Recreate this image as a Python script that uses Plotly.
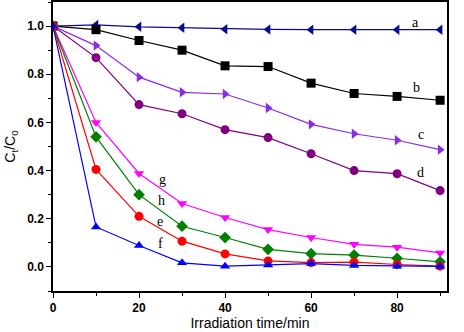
import plotly.graph_objects as go

time_min = [0, 10, 20, 30, 40, 50, 60, 70, 80, 90]

series_a = [1.0, 1.005, 0.997, 0.993, 0.987, 0.986, 0.985, 0.985, 0.985, 0.985]
series_b = [1.0, 0.985, 0.94, 0.90, 0.835, 0.832, 0.763, 0.72, 0.708, 0.692]
series_c = [1.0, 0.919, 0.788, 0.725, 0.718, 0.66, 0.592, 0.553, 0.526, 0.487]
series_d = [1.0, 0.869, 0.674, 0.636, 0.57, 0.537, 0.47, 0.40, 0.387, 0.317]
series_g = [1.0, 0.60, 0.388, 0.263, 0.205, 0.155, 0.122, 0.094, 0.082, 0.058]
series_h = [1.0, 0.54, 0.30, 0.169, 0.122, 0.073, 0.055, 0.049, 0.036, 0.021]
series_e = [1.0, 0.405, 0.21, 0.107, 0.054, 0.025, 0.018, 0.02, 0.01, 0.003]
series_f = [1.0, 0.166, 0.089, 0.017, 0.003, 0.008, 0.014, 0.006, 0.003, 0.002]

labels = ["a", "b", "c", "d", "g", "h", "e", "f"]
label_x = [84.2, 84.6, 85.5, 85.5, 25.4, 25.3, 24.9, 24.9]
label_y = [1.015, 0.744, 0.55, 0.394, 0.363, 0.274, 0.19, 0.097]

styles = [
    (series_a, "#0a0a8c", "triangle-left"),
    (series_b, "#000000", "square"),
    (series_c, "#8a2be2", "triangle-right"),
    (series_d, "#800080", "circle"),
    (series_g, "#ff00ff", "triangle-down"),
    (series_h, "#008000", "diamond"),
    (series_e, "#ff0000", "circle"),
    (series_f, "#0000ff", "triangle-up"),
]

fig = go.Figure()
for vals, col, sym in styles:
    fig.add_trace(go.Scatter(
        x=time_min, y=vals, mode="lines+markers",
        line=dict(color=col, width=1.2),
        marker=dict(symbol=sym, size=9, color=col),
        showlegend=False,
    ))

for t, x, y in zip(labels, label_x, label_y):
    fig.add_annotation(x=x, y=y, text=t, showarrow=False,
                       font=dict(family="Liberation Serif", size=14, color="black"))

axis_common = dict(
    showline=True, linecolor="black", linewidth=1.5, mirror=True,
    ticks="outside", ticklen=5, tickwidth=1.2, tickcolor="black",
    showgrid=False, zeroline=False, automargin=False,
    tickfont=dict(family="Liberation Sans", size=12, color="black", weight="bold"),
)

fig.update_xaxes(
    range=[0, 91.6], tickvals=[0, 20, 40, 60, 80],
    minor=dict(tickvals=[10, 30, 50, 70, 90], ticks="outside", ticklen=3, tickcolor="black", tickwidth=1.2),
    title=dict(text="Irradiation time/min", font=dict(family="Liberation Sans", size=14, color="black"), standoff=4),
    **axis_common,
)
fig.update_yaxes(
    range=[-0.1, 1.1], tickvals=[0.0, 0.2, 0.4, 0.6, 0.8, 1.0], tickformat=".1f",
    minor=dict(tickvals=[-0.1, 0.1, 0.3, 0.5, 0.7, 0.9, 1.1], ticks="outside", ticklen=3, tickcolor="black", tickwidth=1.2),
    title=dict(text="C<sub>t</sub>/C<sub>0</sub>", font=dict(family="Liberation Sans", size=14, color="black"), standoff=8),
    **axis_common,
)

fig.update_layout(
    width=464, height=332,
    margin=dict(l=53, r=17, t=2, b=41),
    paper_bgcolor="white", plot_bgcolor="white",
)

fig.write_html("out.html", config={"displayModeBar": False},
               post_script="document.body.style.margin='0';")
